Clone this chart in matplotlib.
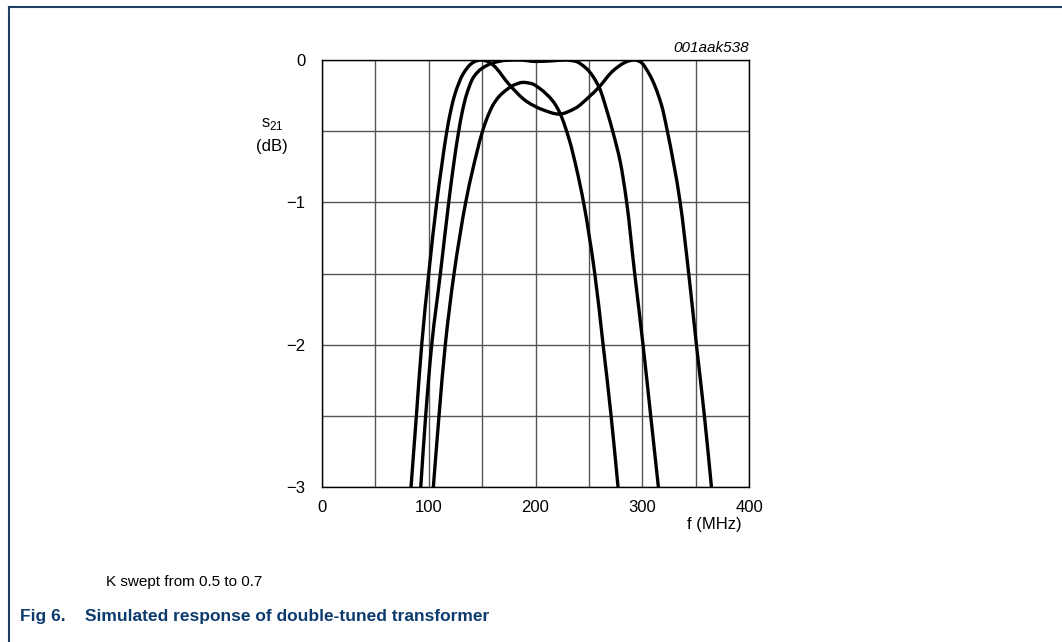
import matplotlib
matplotlib.use('Agg')
import numpy as np
import matplotlib.pyplot as plt
from matplotlib.lines import Line2D
from matplotlib.path import Path
from matplotlib.patches import PathPatch

plt.rcParams['font.family'] = ['Liberation Sans', 'DejaVu Sans']
plt.rcParams['axes.unicode_minus'] = True

# K = 0.7 (double hump)
f_a = [83.4, 88.4, 93.4, 100.0, 107.5, 112.2, 116.5, 120.5, 124.5, 132.0, 140.0, 145.0,
       149.6, 155.0, 160.2, 175.8, 191.5, 207.0, 222.0, 237.0, 250.0, 259.5, 272.0, 283.0,
       288.0, 293.0, 298.0, 307.0, 318.0, 323.5, 335.5, 343.5, 350.7, 358.2, 364.8]
s_a = [-3.0, -2.5, -2.0, -1.5, -1.0, -0.74, -0.52, -0.36, -0.24, -0.1, -0.025, -0.005,
       0.0, -0.01, -0.035, -0.176, -0.29, -0.35, -0.38, -0.34, -0.26, -0.19, -0.08, -0.02,
       -0.005, 0.0, -0.012, -0.105, -0.316, -0.5, -1.0, -1.5, -2.0, -2.5, -3.0]

# flat response
f_b = [92.5, 97.1, 102.8, 110.9, 118.7, 123.2, 127.6, 131.5, 135.5, 142.0, 149.6, 160.2,
       172.7, 185.0, 200.0, 215.0, 228.0, 237.0, 247.7, 259.5, 267.0, 273.0, 279.5, 285.4,
       292.9, 300.7, 307.9, 315.1]
s_b = [-3.0, -2.5, -2.0, -1.5, -1.0, -0.74, -0.52, -0.36, -0.24, -0.12, -0.06, -0.02,
       -0.002, 0.0, -0.01, -0.006, 0.0, -0.008, -0.06, -0.19, -0.36, -0.52, -0.72, -1.0,
       -1.5, -2.0, -2.5, -3.0]

# single peak
f_c = [104.3, 109.6, 115.5, 123.7, 134.6, 141.5, 149.6, 154.5, 160.2, 166.0, 172.7, 180.0,
       188.3, 196.0, 204.0, 216.4, 222.7, 232.0, 238.3, 245.0, 255.5, 263.3, 270.8, 277.3]
s_c = [-3.0, -2.5, -2.0, -1.5, -1.0, -0.76, -0.52, -0.41, -0.316, -0.255, -0.21, -0.175,
       -0.157, -0.165, -0.2, -0.29, -0.37, -0.57, -0.76, -1.0, -1.5, -2.0, -2.5, -3.0]

x_ticks = [0, 100, 200, 300, 400]
y_ticks = [0, -1, -2, -3]
y_tick_labels = ['0', '\u22121', '\u22122', '\u22123']


def smooth_path(x, y):
    # monotone cubic (pchip) through the read points, drawn as bezier segments
    x = np.asarray(x, float)
    y = np.asarray(y, float)
    h = np.diff(x)
    d = np.diff(y) / h
    m = np.zeros_like(y)
    for k in range(1, len(x) - 1):
        if d[k - 1] * d[k] > 0:
            w1 = 2 * h[k] + h[k - 1]
            w2 = h[k] + 2 * h[k - 1]
            m[k] = (w1 + w2) / (w1 / d[k - 1] + w2 / d[k])
    m[0] = d[0]
    m[-1] = d[-1]
    verts = [(x[0], y[0])]
    codes = [Path.MOVETO]
    for k in range(len(x) - 1):
        verts += [(x[k] + h[k] / 3, y[k] + m[k] * h[k] / 3),
                  (x[k + 1] - h[k] / 3, y[k + 1] - m[k + 1] * h[k] / 3),
                  (x[k + 1], y[k + 1])]
        codes += [Path.CURVE4] * 3
    return Path(verts, codes)


fig = plt.figure(figsize=(10.62, 6.42), dpi=100)
ax = fig.add_axes([0.3032, 0.2414, 0.4021, 0.6651])

for f, s in [(f_a, s_a), (f_b, s_b), (f_c, s_c)]:
    ax.add_patch(PathPatch(smooth_path(f, s), facecolor='none', edgecolor='black',
                           lw=2.4, capstyle='butt', zorder=3))

ax.set_xlim(0, 400)
ax.set_ylim(-3, 0)
ax.set_xticks(range(0, 401, 50))
ax.set_yticks([v * 0.5 for v in range(-6, 1)])
ax.grid(True, color='#555555', lw=1.0)
ax.set_xticklabels([str(v) if v in x_ticks else '' for v in range(0, 401, 50)])
ax.set_yticklabels([y_tick_labels[y_ticks.index(int(v * 0.5))] if v % 2 == 0 else ''
                    for v in range(-6, 1)])
ax.tick_params(length=0, labelsize=12, pad=9)
ax.tick_params(axis='y', pad=12)
for sp in ax.spines.values():
    sp.set_color('black')
    sp.set_linewidth(1.0)

ax.text(1.0, 1.012, '001aak538', transform=ax.transAxes, ha='right', va='bottom',
        fontsize=11, style='italic')
fig.text(272 / 1062, 1 - 124 / 642, r's$_{\mathregular{21}}$', ha='center', va='center', fontsize=12)
fig.text(272 / 1062, 1 - 146 / 642, '(dB)', ha='center', va='center', fontsize=12)
fig.text(714 / 1062, 1 - 525 / 642, 'f (MHz)', ha='center', va='center', fontsize=12)

fig.text(106 / 1062, 1 - 582 / 642, 'K swept from 0.5 to 0.7', ha='left', va='center', fontsize=11)
navy = '#0d3b6e'
fig.text(20 / 1062, 1 - 617 / 642, 'Fig 6.', ha='left', va='center', fontsize=12.5,
         fontweight='bold', color=navy)
fig.text(85 / 1062, 1 - 617 / 642, 'Simulated response of double-tuned transformer',
         ha='left', va='center', fontsize=12.5, fontweight='bold', color=navy)

frame = '#1f3f66'
fig.add_artist(Line2D([9 / 1062, 1.0], [1 - 7 / 642, 1 - 7 / 642], color=frame, lw=1.5))
fig.add_artist(Line2D([9 / 1062, 9 / 1062], [0.0, 1 - 7 / 642], color=frame, lw=1.5))

fig.savefig('out.png', dpi=100)
